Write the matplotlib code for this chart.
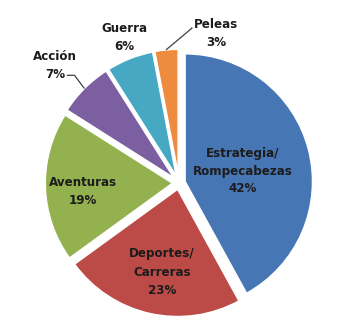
import numpy as np
import matplotlib
matplotlib.use("Agg")
import matplotlib.pyplot as plt

# data
categories = ["Estrategia/\nRompecabezas", "Deportes/\nCarreras", "Aventuras",
              "Acción", "Guerra", "Peleas"]
shares = [42, 23, 19, 7, 6, 3]   # %
colors = ["#4776B4", "#BC4B48", "#93B24F", "#7C5FA0", "#46A8C2", "#EE8B3E"]

# label placement (pixel coords of text centre), y measured from top
label_pos = [(243, 171), (162, 272), (83, 192), (55, 66), (124, 38), (216, 33)]

W, H = 347, 335
cx, cy, r = 179, 183, 128

fig = plt.figure(figsize=(W / 100, H / 100), dpi=100)
ax = fig.add_axes([0, 0, 1, 1])

wedges, _ = ax.pie(shares, colors=colors, startangle=90, counterclock=False,
                   center=(cx, H - cy), radius=r, explode=[6] * len(shares),
                   wedgeprops=dict(edgecolor="white", linewidth=1.5))

ax.set_xlim(0, W)
ax.set_ylim(0, H)
ax.set_aspect("equal")
ax.axis("off")

txt_kw = dict(ha="center", va="center", fontsize=8.6, fontweight="bold",
              color="#1c1c1c", linespacing=1.5)

for i, (lab, val) in enumerate(zip(categories, shares)):
    x, y = label_pos[i]
    s = f"{lab}\n{val}%"
    w = wedges[i]
    tm = np.deg2rad(0.5 * (w.theta1 + w.theta2))
    edge = (w.center[0] + w.r * np.cos(tm), w.center[1] + w.r * np.sin(tm))
    if lab == "Acción":
        ax.annotate(s, xy=edge, xytext=(x, H - y), **txt_kw,
                    arrowprops=dict(arrowstyle="-", color="#404040", lw=0.9,
                                    patchA=None, shrinkA=0, shrinkB=0,
                                    relpos=(0.78, 0.2),
                                    connectionstyle="angle,angleA=0,angleB=127,rad=0"))
    elif lab == "Peleas":
        ax.annotate(s, xy=edge, xytext=(x, H - y), **txt_kw,
                    arrowprops=dict(arrowstyle="-", color="#404040", lw=0.9,
                                    patchA=None, shrinkA=0, shrinkB=0,
                                    relpos=(-0.05, 0.66),
                                    connectionstyle="angle,angleA=0,angleB=40,rad=0"))
    else:
        ax.text(x, H - y, s, **txt_kw)

fig.savefig("out.png", dpi=100)
